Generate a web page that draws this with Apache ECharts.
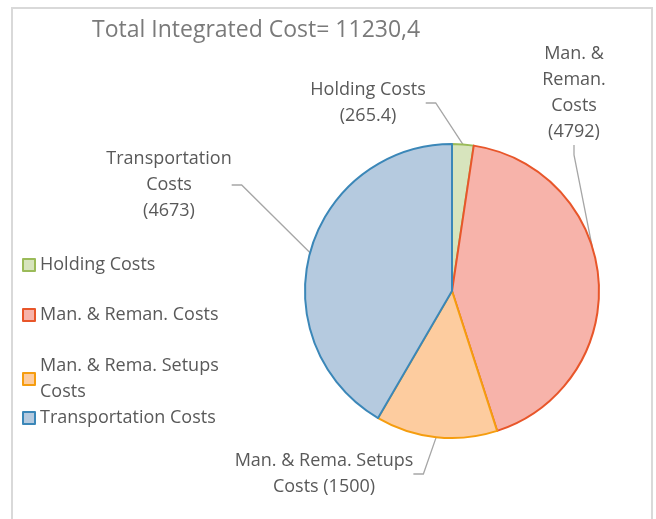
<!DOCTYPE html>
<html>
<head>
<meta charset="utf-8">
<script src="https://cdn.jsdelivr.net/npm/echarts@6/dist/echarts.min.js"></script>
<style>
  html, body { margin: 0; padding: 0; background: #fff; }
  #chart { width: 656px; height: 519px; }
</style>
</head>
<body>
<div id="chart"></div>
<script>
var titleText = 'Total Integrated Cost= 11230,4';
var categories = ['Holding Costs', 'Man. & Reman. Costs', 'Man. & Rema. Setups Costs', 'Transportation Costs'];
var costValues = [265.4, 4792, 1500, 4673];
var labelTexts = [
    'Holding Costs\n(265.4)',
    'Man. &\nReman.\nCosts\n(4792)',
    'Man. & Rema. Setups\nCosts (1500)',
    'Transportation\nCosts\n(4673)'
];
var fillColors = ['#d7e4bd', '#f7b3aa', '#fdcc9f', '#b5cadf'];
var edgeColors = ['#9bbb59', '#e8562a', '#f59d0f', '#3b87b8'];

var chart = echarts.init(document.getElementById('chart'));

var font = '"Open Sans", Lato, sans-serif';
var textGray = '#595959';

// where each outside label sits (text block centre)
var labelSpots = [[368, 103], [574, 93], [324, 474], [169, 185]];
var legendTops = [247, 297, 348, 400];

var pieData = categories.map(function (name, i) {
    return {
        name: name,
        value: costValues[i],
        itemStyle: { color: fillColors[i], borderColor: edgeColors[i] },
        label: { formatter: labelTexts[i] }
    };
});

var legends = categories.map(function (name, i) {
    var lg = {
        orient: 'vertical',
        left: 17,
        top: legendTops[i],
        icon: 'rect',
        itemWidth: 12,
        itemHeight: 12,
        itemGap: 0,
        selectedMode: false,
        data: [name],
        textStyle: { color: textGray, fontFamily: font, fontSize: 18, lineHeight: 26 }
    };
    if (i === 2) {
        lg.formatter = function () { return 'Man. & Rema. Setups\nCosts'; };
        lg.textStyle.padding = [26, 0, 0, 0];
        lg.top = legendTops[i] - 13;
    }
    return lg;
});

option = {
    backgroundColor: '#fff',
    animation: false,
    title: {
        text: titleText,
        left: 87,
        top: 14,
        textStyle: { color: '#7a7a7a', fontFamily: font, fontSize: 23, fontWeight: 'normal' }
    },
    legend: legends,
    graphic: [{
        type: 'rect',
        shape: { x: 12, y: 8, width: 640, height: 530 },
        style: { fill: 'none', stroke: '#d9d9d9', lineWidth: 2 },
        silent: true
    }],
    series: [{
        type: 'pie',
        center: [452, 291],
        radius: 147,
        startAngle: 90,
        clockwise: true,
        avoidLabelOverlap: false,
        itemStyle: { borderWidth: 2 },
        label: {
            show: true,
            position: 'outside',
            color: textGray,
            fontFamily: font,
            fontSize: 18,
            lineHeight: 26,
            align: 'center'
        },
        labelLine: {
            show: true,
            length: 10,
            length2: 10,
            lineStyle: { color: '#a6a6a6', width: 1.3 }
        },
        labelLayout: function (params) {
            var p = labelSpots[params.dataIndex];
            return { x: p[0], y: p[1], align: 'center', verticalAlign: 'middle' };
        },
        emphasis: { disabled: true },
        data: pieData
    }]
};

chart.setOption(option);
</script>
</body>
</html>
